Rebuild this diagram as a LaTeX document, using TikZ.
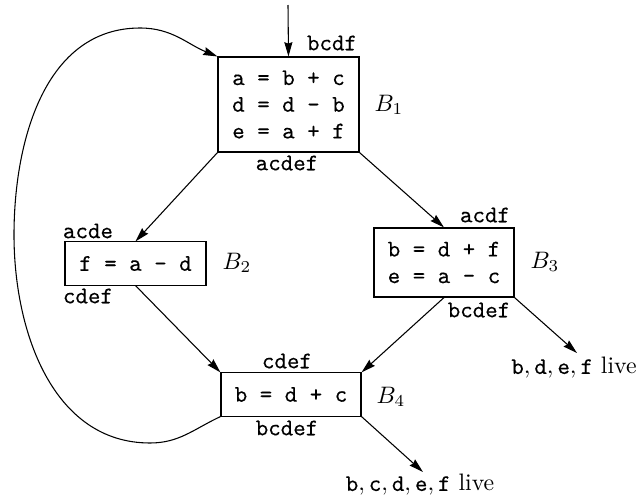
\documentclass[tikz,border=0pt]{standalone}
\usepackage{fontspec}
\setmonofont{Latin Modern Mono}[FakeBold=0.3]
\usetikzlibrary{arrows.meta}
\begin{document}
\begin{tikzpicture}[x=0.42pt,y=0.42pt,
  >={Stealth[length=6pt,width=3.4pt,inset=0.6pt]},
  blk/.style={draw, line width=0.45pt, inner sep=0pt, align=left,
    font=\ttfamily\fontsize{10}{11.2}\selectfont},
  lab/.style={font=\ttfamily, inner sep=0pt},
  bname/.style={inner sep=0pt},
  conn/.style={->, line width=0.45pt}]
\useasboundingbox (0,0) rectangle (639,499);

% blocks
\node[blk, minimum width=59.2pt, minimum height=39.9pt] (B1) at (288.5,394.5) {a = b + c\\d = d - b\\e = a + f};
\node[blk, minimum width=59.2pt, minimum height=18.1pt] (B2) at (135.5,235.5) {f = a - d};
\node[blk, minimum width=58.8pt, minimum height=29pt] (B3) at (444,236.5) {b = d + f\\e = a - c};
\node[blk, minimum width=58.8pt, minimum height=18.1pt] (B4) at (291,104.5) {b = d + c};

% block names
\node[bname] (n1) at (389,394) {$B_1$};
\node[bname] (n2) at (237,236) {$B_2$};
\node[bname] (n3) at (545,237) {$B_3$};
\node[bname] (n4) at (391,102) {$B_4$};

% live-variable labels
\node[lab] (l1a) at (332,456) {bcdf};
\node[lab] (l1b) at (287,336) {acdef};
\node[lab] (l2a) at (88,268) {acde};
\node[lab] (l2b) at (88,203) {cdef};
\node[lab] (l3a) at (485,284) {acdf};
\node[lab] (l3b) at (479,189) {bcdef};
\node[lab] (l4a) at (287,138) {cdef};
\node[lab] (l4b) at (287,71) {bcdef};

% exit labels
\node[inner sep=0pt] (x3) at (574,131) {$\mathtt{b}, \mathtt{d}, \mathtt{e}, \mathtt{f}$ live};
\node[inner sep=0pt] (x4) at (420,14) {$\mathtt{b}, \mathtt{c}, \mathtt{d}, \mathtt{e}, \mathtt{f}$ live};

% free ends
\coordinate (entry) at (288,494);
\coordinate (out3) at (577,146);
\coordinate (out4) at (423,27);
\coordinate (lb) at (150,56);
\coordinate (ll) at (14,264);
\coordinate (lt) at (140,471);

% connectors
\draw[conn] (entry) -- (B1.north);
\draw[conn] (B1.south west) -- (B2.north);
\draw[conn] (B1.south east) -- (B3.north);
\draw[conn] (B2.south) -- (B4.north west);
\draw[conn] (B3.south) -- (B4.north east);
\draw[conn] (B3.south east) -- (out3);
\draw[conn] (B4.south east) -- (out4);
\draw[conn] (B4.south west) to[out=205,in=0] (lb) to[out=180,in=270] (ll)
  to[out=90,in=180] (lt) to[out=0,in=158] (B1.north west);
\end{tikzpicture}
\end{document}
